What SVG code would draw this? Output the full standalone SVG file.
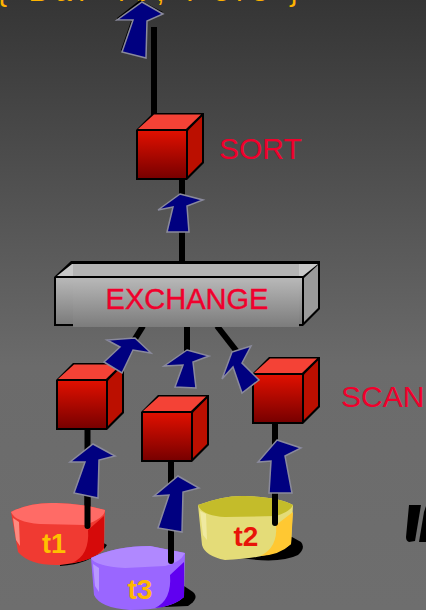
<svg xmlns="http://www.w3.org/2000/svg" width="426" height="610" viewBox="0 0 426 610">
<defs>
<linearGradient id="bg" x1="0" y1="0" x2="0" y2="1"><stop offset="0" stop-color="#353535"/><stop offset="0.6" stop-color="#6b6b6b"/><stop offset="1" stop-color="#6e6e6e"/></linearGradient>
<linearGradient id="front" x1="0" y1="0" x2="0" y2="1"><stop offset="0" stop-color="#e01000"/><stop offset="1" stop-color="#780000"/></linearGradient>
<linearGradient id="ex" x1="0" y1="0" x2="0" y2="1"><stop offset="0" stop-color="#b8b8b8"/><stop offset="1" stop-color="#7c7c7c"/></linearGradient>
<g id="cube">
<path d="M0 17 L17 0 L68 0 L68 50 L51 67 L0 67 Z" fill="#000"/>
<path d="M2 16 L18 1.500 L65 1.500 L50 16 Z" fill="#f44236"/>
<path d="M52 17.500 L66 3.500 L66 49 L52 63 Z" fill="#bb0f00"/>
<rect x="2" y="18" width="48" height="47" fill="url(#front)"/>
</g>
</defs>
<style>
.arrow{fill:#000080;stroke:#8a8a9c;stroke-width:1.500;stroke-linejoin:miter}
.wire{stroke:#000;stroke-width:6;fill:none}
.lab{font-family:"Liberation Sans",Arial,sans-serif;font-size:30px;fill:#f0002c}
.t{font-family:"Liberation Sans",Arial,sans-serif;font-size:28px;font-weight:700}
</style>
<rect width="426" height="610" fill="url(#bg)"/>
<text x="-3" y="1" font-family="Liberation Sans,Arial,sans-serif" font-size="30" fill="#ffb300" textLength="302" lengthAdjust="spacing">{ Bar 40, Pers }</text>

<g id="connectors">
<path class="wire" d="M154 27 V116"/>
<path class="wire" d="M182 180 V264"/>
<path class="wire" d="M143 326 L128 350"/>
<path class="wire" d="M187 326 V366"/>
<path class="wire" d="M217 326 L238 353"/>
<path class="wire" d="M87.500 428 V526" stroke-linecap="round"/>
<path class="wire" d="M171 460 V561" stroke-linecap="round"/>
<path class="wire" d="M275 424 V523" stroke-linecap="round"/>
</g>

<g id="sort"><use href="#cube" x="136" y="113"/><text class="lab" x="219" y="159">SORT</text></g>

<g id="exchange">
<path d="M54 277 L71 261 L320 261 L320 309 L303 326 L54 326 Z" fill="#000"/>
<path d="M57 276 L72 264 L318 264 L303 276 Z" fill="#c8c8c8"/>
<path d="M304 278 L318 265 L318 308 L304 322 Z" fill="#9a9a9a"/>
<rect x="56" y="278" width="246" height="46" fill="url(#ex)"/>
<rect x="73" y="264" width="226" height="12" fill="#b4b4b4"/>
<rect x="73" y="278" width="226" height="49" fill="url(#ex)"/>
<path d="M116 261 h4 v3 h-5 Z M166 261 h4 v3 h-5 Z M217 261 h4 v3 h-5 Z M267 261 h4 v3 h-5 Z" fill="#000"/>
<text class="lab" x="187" y="309" text-anchor="middle" style="font-size:29px" stroke="#f0002c" stroke-width="0.400">EXCHANGE</text>
</g>

<g id="scan1"><use href="#cube" x="56" y="363"/></g>
<g id="scan2"><use href="#cube" x="141" y="395"/></g>
<g id="scan3"><use href="#cube" x="252" y="357"/><text class="lab" x="341" y="407">SCAN</text></g>

<g id="t1">
<path d="M60 566 Q90 564 105 548 L107 545 L95 538 L60 555 Z" fill="#000"/>
<path d="M11 512 Q30 502 56 503 Q85 504 105 510 L104 550 Q90 562 60 565 Q30 566 18 552 Z" fill="#f03a32"/>
<path d="M104 516 L104 548 Q95 560 72 563 Q90 555 88 530 Z" fill="#d60a0a"/>
<path d="M13 518 L19 522 L20 546 L16 540 Z" fill="#ff8a80"/>
<path d="M11 512 Q30 502 56 503 Q85 504 105 510 Q105 518 85 525 L40 524 Q15 522 11 512 Z" fill="#ff6b66"/>
<text class="t" x="54" y="553" text-anchor="middle" fill="#ffc000" style="font-size:27px">t1</text>
</g>

<g id="t3">
<path d="M140 608 L188 606 Q200 598 193 592 L184 586 L140 590 Z" fill="#000"/>
<path d="M91 558 Q115 546 150 546 L185 553 L184 597 Q170 610 130 610 Q100 608 94 595 Z" fill="#9a66ff"/>
<path d="M184 562 L184 597 Q175 606 155 608 Q172 600 170 575 Z" fill="#6000f0"/>
<path d="M93 564 L99 568 L99 592 L95 586 Z" fill="#b898ff"/>
<path d="M91 558 Q115 546 150 546 L185 553 Q180 563 165 566 L125 568 Q95 566 91 558 Z" fill="#b088ff"/>
<text class="t" x="140" y="599" text-anchor="middle" fill="#ffb800">t3</text>
</g>

<g id="t2">
<path d="M240 558 Q280 564 298 555 Q306 548 301 542 L292 537 L240 545 Z" fill="#000"/>
<path d="M198 505 Q225 495 245 496 Q280 497 293 505 L291 544 Q275 558 225 560 Q205 556 202 545 Z" fill="#e4dc78"/>
<path d="M293 512 L291 544 Q280 555 260 556 Q278 548 276 525 Z" fill="#ffc832"/>
<path d="M200 511 L206 514 L207 540 L203 535 Z" fill="#efe9a0"/>
<path d="M198 505 Q225 495 245 496 Q280 497 293 505 Q290 512 276 516 L225 517 Q202 516 198 505 Z" fill="#c4bc2a"/>
<text class="t" x="246" y="546" text-anchor="middle" fill="#e81408">t2</text>
</g>

<g id="connectors-top">
<path class="wire" d="M87.500 490 V526" stroke-linecap="round"/>
<path class="wire" d="M171 520 V561" stroke-linecap="round"/>
<path class="wire" d="M275 490 V523" stroke-linecap="round"/>
</g>

<g id="arrows">
<path d="M117 18 L140 0 L163 12 L147 20 L132 18 L121 50 L123 52 L135 21 L117 21 Z" fill="#000"/>
<path class="arrow" d="M142 2 L163 14 L147 21 L146 58 L122 52 L133 20 L117 20 Z"/>
<path class="arrow" d="M180 194 L203 200 L187 206 L189 232 L167 232 L173 207 L158 210 Z"/>
<path class="arrow" d="M135 338 L151 353 L133 350 L122 373 L104 362 L120 347 L107 340 Z"/>
<path class="arrow" d="M187 350 L209 356 L193 362 L196 388 L175 387 L183 365 L164 366 Z"/>
<path class="arrow" d="M232 352 L251 346 L242 363 L259 380 L242 393 L233 367 L222 379 Z"/>
<path class="arrow" d="M93 444 L115 456 L99 460 L98 498 L74 493 L85 462 L70 462 Z"/>
<path class="arrow" d="M178 476 L199 488 L183 492 L182 532 L158 528 L169 495 L154 496 Z"/>
<path class="arrow" d="M277 440 L301 448 L285 456 L292 493 L269 493 L271 461 L258 462 Z"/>
</g>

<g id="fragment">
<path d="M409 505 L421 505 L415 541 L409 542 Q406 541 406 537 Z" fill="#000"/>
<path d="M424 512 L426 506 V542 L419 542 Z" fill="#000"/>
</g>
</svg>
